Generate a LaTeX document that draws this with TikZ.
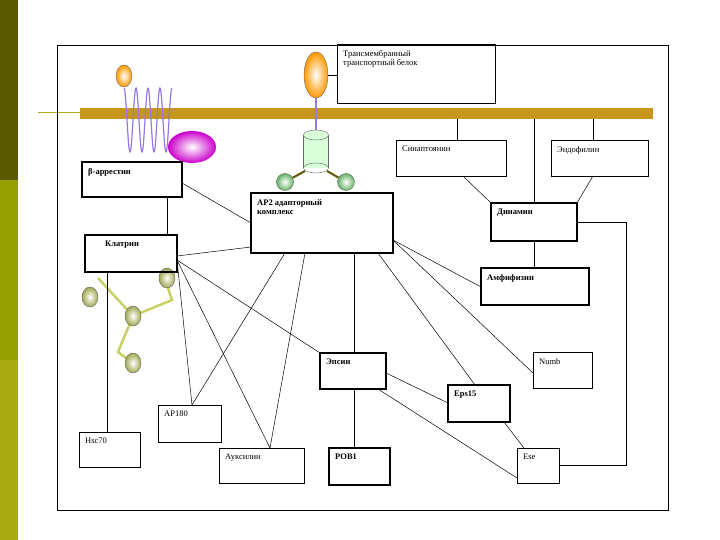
\documentclass[tikz,border=0pt]{standalone}
\usepackage{fontspec}
\setmainfont{Liberation Serif}
\usepackage{tikz}
\usetikzlibrary{calc,positioning,shapes.geometric}

\definecolor{membrane}{RGB}{200,150,30}
\definecolor{olivedark}{RGB}{90,90,0}
\definecolor{olivemid}{RGB}{150,160,0}
\definecolor{olivelight}{RGB}{170,170,20}
\definecolor{coil}{RGB}{150,120,230}
\definecolor{triskel}{RGB}{200,210,100}

\tikzset{
  box/.style 2 args={draw, thin, inner sep=0pt, outer sep=0pt, anchor=north west,
    minimum width=#1, minimum height=#2},
  fat/.style={line width=1.6pt},
  lbl/.style={inner sep=0pt, anchor=north west, xshift=6pt, yshift=-6pt,
    align=left, font=\fontsize{8.5}{9.5}\selectfont},
  blbl/.style={lbl, font=\fontsize{8.5}{9.5}\selectfont\bfseries},
  link/.style={draw, line width=0.5pt},
  ball/.style={draw=black!60, thin, shading=radial, inner color=white},
}

\begin{document}
\begin{tikzpicture}[x=1pt, y=-1pt]
  \useasboundingbox (0,0) rectangle (720,540);

  % slide decoration on the left
  \fill [olivedark]  (0,0)   rectangle (18,180);
  \fill [olivemid]   (0,180) rectangle (18,360);
  \fill [olivelight] (0,360) rectangle (18,540);
  \draw [olivelight, line width=1pt] (38,113) -- (80,113);

  % outer frame
  \draw [line width=0.7pt] (57,45) rectangle (668,510);

  % membrane
  \node [fill=membrane, inner sep=0pt, anchor=north west,
         minimum width=573, minimum height=11] (mem) at (80,108) {};

  % receptor with the coil
  \draw [coil, line width=1.2pt] plot [domain=0:4, samples=120]
        ({124+12*\x}, {120-32*cos(360*\x)});
  \node [ball, outer color=orange!80!yellow, ellipse, minimum width=16, minimum height=22] (lig) at (124,76) {};
  \node [ball, outer color=magenta!80!black, ellipse, draw=none, minimum width=48, minimum height=32] (arr) at (192,147) {};

  % transmembrane protein with AP2 adaptor
  \node [ball, outer color=orange!80!yellow, ellipse, minimum width=24, minimum height=46] (cargo) at (316,75) {};
  \fill [green!15] (303,135) rectangle (328,168);
  \draw [black!60] (303,135) -- (303,168) (328,135) -- (328,168);
  \draw [black!60, fill=green!15] (316,135) ellipse (12.5 and 5);
  \draw [black!60] (316,168) ellipse (12.5 and 5);
  \node [ball, outer color=green!50!black!60, circle, minimum size=17] (gl) at (285,182) {};
  \node [ball, outer color=green!50!black!60, circle, minimum size=17] (gr) at (346,182) {};
  \draw [olivedark, line width=2pt] (305,171) -- (gl);
  \draw [olivedark, line width=2pt] (327,171) -- (gr);
  \draw [coil, line width=1.2pt] (cargo) -- (316,130);

  % clathrin triskelion
  \draw [triskel, line width=2.5pt] (98,278) -- (133,316) -- (172,300) -- (168,288);
  \draw [triskel, line width=2.5pt] (133,316) -- (118,352) -- (133,363);
  \node [ball, outer color=triskel!80!black, ellipse, minimum width=16, minimum height=20] (c1) at (90,297) {};
  \node [ball, outer color=triskel!80!black, ellipse, minimum width=16, minimum height=20] (c2) at (167,278) {};
  \node [ball, outer color=triskel!80!black, ellipse, minimum width=16, minimum height=20] (c3) at (133,316) {};
  \node [ball, outer color=triskel!80!black, ellipse, minimum width=16, minimum height=20] (c4) at (133,363) {};

  % boxes
  \node [box={158}{59}, label={[lbl]north west:Трансмембранный\\транспортный белок}] (tm) at (337,44) {};
  \node [box={110}{36}, label={[lbl]north west:Синаптоянин}] (synap) at (396,140) {};
  \node [box={97}{36}, label={[lbl]north west:Эндофилин}] (endo) at (551,140) {};
  \node [box={100}{35}, fat, label={[blbl]north west:β-аррестин}] (barr) at (82,162) {};
  \node [box={142}{60}, fat, label={[blbl]north west:AP2 адапторный\\комплекс}] (ap2) at (251,193) {};
  \node [box={86}{38}, fat, label={[blbl]north west:Динамин}] (dyn) at (491,203) {};
  \node [box={92}{37}, fat, label={[blbl, xshift=14pt]north west:Клатрин}] (clat) at (85,235) {};
  \node [box={108}{37}, fat, label={[blbl]north west:Амфифизин}] (amph) at (481,268) {};
  \node [box={66}{36}, fat, label={[blbl]north west:Эпсин}] (epsin) at (320,353) {};
  \node [box={59}{36}, label={[lbl]north west:Numb}] (numb) at (533,352) {};
  \node [box={62}{37}, fat, label={[blbl]north west:Eps15}] (eps) at (448,385) {};
  \node [box={63}{37}, label={[lbl]north west:AP180}] (ap180) at (158,405) {};
  \node [box={61}{35}, label={[lbl]north west:Hsc70}] (hsc) at (79,432) {};
  \node [box={85}{35}, label={[lbl]north west:Ауксилин}] (aux) at (219,448) {};
  \node [box={61}{37}, fat, label={[blbl]north west:POB1}] (pob) at (329,448) {};
  \node [box={42}{35}, label={[lbl]north west:Ese}] (ese) at (517,448) {};

  % connectors
  \draw [link] (cargo.east) -- (cargo.east -| tm.west);
  \draw [link] ($(mem.south west)+(377,0)$) coordinate (m1) -- (m1 |- synap.north);
  \draw [link] ($(mem.south west)+(513,0)$) coordinate (m2) -- (m2 |- endo.north);
  \draw [link] ($(mem.south west)+(454,0)$) coordinate (m3) -- (m3 |- dyn.north);
  \draw [link] ($(synap.south west)+(67,0)$) -- (dyn.north west);
  \draw [link] ($(endo.south west)+(42,0)$) -- (dyn.north east);
  \draw [link] (dyn.east) -| ($(ese.east)+(67,0)$) -- (ese.east);
  \draw [link] ($(dyn.south west)+(43,0)$) coordinate (d1) -- (d1 |- amph.north);
  \draw [link] ($(barr.south west)+(85,0)$) coordinate (b1) -- (b1 |- clat.north);
  \draw [link] ($(barr.north east)+(0,21)$) -- ($(ap2.north west)+(0,30)$);
  \draw [link] ($(clat.north east)+(0,21)$) -- ($(ap2.north west)+(0,54)$);
  \draw [link] ($(clat.south west)+(22,0)$) coordinate (k1) -- (k1 |- hsc.north);
  \draw [link] ($(clat.north east)+(0,25)$) coordinate (k2) -- ($(ap180.north west)+(34,0)$);
  \draw [link] (k2) -- ($(aux.north west)+(51,0)$);
  \draw [link] (k2) -- (epsin.north west);
  \draw [link] ($(ap2.south west)+(34,0)$) -- ($(ap180.north west)+(34,0)$);
  \draw [link] ($(ap2.south west)+(54,0)$) -- ($(aux.north west)+(51,0)$);
  \draw [link] ($(ap2.south west)+(103,0)$) coordinate (a1) -- (a1 |- epsin.north);
  \draw [link] ($(ap2.south west)+(127,0)$) -- ($(eps.north west)+(27,0)$);
  \draw [link] ($(ap2.north east)+(0,47)$) coordinate (a2) -- ($(amph.north west)+(0,19)$);
  \draw [link] (a2) -- ($(numb.north west)+(0,21)$);
  \draw [link] ($(epsin.north east)+(0,20)$) -- ($(eps.north west)+(0,18)$);
  \draw [link] ($(epsin.south east)+(-8,0)$) -- ($(ese.south west)+(0,-5)$);
  \draw [link] ($(epsin.south west)+(34,0)$) coordinate (e1) -- (e1 |- pob.north);
  \draw [link] ($(eps.south west)+(56,0)$) -- ($(ese.north west)+(7,0)$);
\end{tikzpicture}
\end{document}
